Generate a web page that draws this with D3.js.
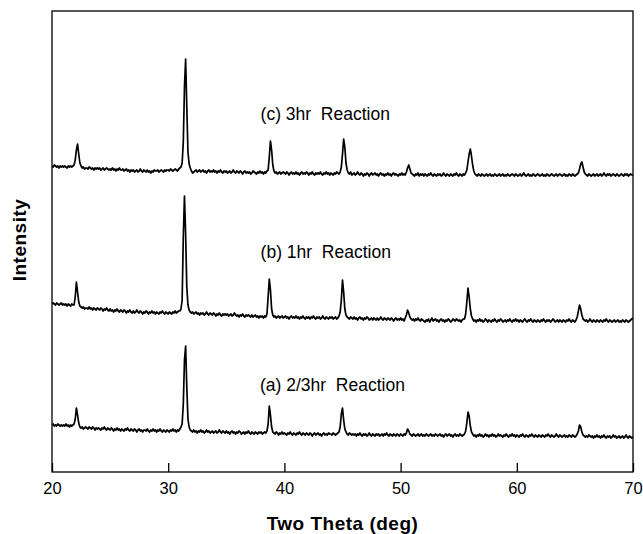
<!DOCTYPE html>
<html>
<head>
<meta charset="utf-8">
<script src="https://cdn.jsdelivr.net/npm/d3@7/dist/d3.min.js"></script>
<style>
  html, body { margin: 0; padding: 0; background: #fff; }
  text { font-family: "Liberation Sans", Arial, Helvetica, sans-serif; fill: #000; }
</style>
</head>
<body>
<svg id="chart" width="643" height="534"></svg>
<script>
// XRD scans, 2θ from 20° to 70° in 0.1° steps (501 points each), stacked intensities (a.u.)
const thetaStart = 20;
const thetaStep = 0.1;
const xTicks = [20, 30, 40, 50, 60, 70];
const seriesLabels = ["(a) 2/3hr  Reaction", "(b) 1hr  Reaction", "(c) 3hr  Reaction"];

// (a) 2/3 hr
const intensityA = [
  47, 48, 46, 47, 46, 48, 47, 46, 47, 46,
  47, 46, 48, 46, 47, 45, 47, 46, 47, 48,
  53, 64, 57, 49, 45, 44, 45, 43, 44, 45,
  44, 43, 45, 44, 43, 45, 44, 42, 44, 43,
  44, 43, 42, 44, 43, 45, 43, 42, 44, 43,
  42, 44, 43, 41, 43, 42, 44, 42, 43, 41,
  43, 42, 41, 43, 42, 44, 42, 41, 43, 42,
  41, 43, 42, 40, 42, 43, 41, 42, 40, 42,
  42, 41, 43, 41, 40, 42, 41, 43, 41, 42,
  40, 42, 41, 43, 41, 40, 42, 41, 40, 42,
  41, 40, 42, 41, 43, 41, 42, 40, 42, 41,
  43, 45, 48, 68, 112, 126, 85, 53, 45, 42,
  41, 40, 42, 40, 41, 39, 41, 40, 42, 40,
  41, 39, 40, 42, 40, 41, 39, 40, 41, 39,
  40, 41, 39, 40, 42, 40, 39, 41, 40, 39,
  41, 39, 40, 38, 40, 41, 39, 40, 38, 40,
  39, 41, 40, 38, 39, 40, 38, 40, 39, 41,
  39, 38, 40, 39, 38, 40, 39, 38, 40, 39,
  40, 38, 39, 40, 39, 41, 48, 66, 57, 45,
  40, 39, 38, 40, 39, 37, 39, 38, 40, 38,
  39, 38, 37, 39, 38, 40, 38, 37, 39, 38,
  37, 39, 38, 40, 38, 37, 39, 38, 37, 39,
  38, 37, 39, 38, 36, 38, 39, 37, 38, 39,
  37, 38, 36, 38, 39, 37, 38, 37, 39, 38,
  38, 37, 39, 38, 37, 38, 39, 40, 45, 58,
  64, 52, 43, 40, 38, 37, 39, 38, 37, 38,
  37, 38, 36, 38, 37, 39, 37, 36, 38, 37,
  38, 36, 37, 39, 37, 36, 38, 37, 36, 38,
  37, 38, 36, 37, 38, 36, 38, 37, 39, 37,
  36, 38, 37, 36, 38, 37, 36, 38, 37, 36,
  38, 37, 36, 38, 37, 39, 43, 41, 38, 37,
  36, 38, 37, 36, 37, 38, 36, 37, 38, 36,
  37, 36, 38, 37, 36, 37, 38, 36, 37, 36,
  38, 37, 36, 37, 38, 36, 37, 35, 37, 38,
  36, 37, 38, 36, 37, 35, 37, 38, 36, 37,
  36, 38, 37, 36, 37, 38, 41, 49, 60, 56,
  46, 40, 38, 36, 37, 35, 37, 36, 38, 36,
  37, 35, 36, 38, 36, 37, 35, 37, 36, 38,
  36, 37, 35, 36, 38, 36, 37, 36, 35, 37,
  36, 38, 36, 35, 37, 36, 38, 36, 37, 35,
  37, 36, 35, 37, 36, 38, 36, 35, 37, 36,
  35, 37, 36, 38, 36, 35, 37, 36, 35, 37,
  36, 35, 37, 36, 35, 37, 36, 38, 36, 35,
  37, 36, 35, 36, 38, 36, 35, 37, 36, 35,
  36, 37, 35, 36, 35, 37, 36, 35, 37, 36,
  35, 36, 38, 41, 47, 45, 40, 37, 36, 35,
  36, 35, 37, 36, 35, 36, 34, 36, 35, 37,
  35, 36, 34, 36, 35, 37, 35, 34, 36, 35,
  36, 34, 35, 37, 35, 36, 34, 35, 36, 34,
  35, 36, 34, 35, 37, 35, 34, 36, 35, 34,
  35
];

// (b) 1 hr
const intensityB = [
  168, 169, 168, 167, 169, 168, 167, 168, 169, 167,
  168, 167, 168, 166, 168, 167, 166, 168, 167, 167,
  175, 190, 180, 170, 166, 165, 164, 165, 163, 164,
  164, 163, 165, 163, 164, 162, 164, 163, 162, 164,
  163, 162, 164, 163, 161, 163, 162, 164, 162, 161,
  163, 161, 162, 160, 162, 161, 163, 161, 160, 162,
  161, 160, 162, 161, 159, 161, 160, 162, 160, 159,
  161, 159, 160, 162, 160, 159, 161, 160, 158, 160,
  159, 161, 160, 158, 160, 159, 161, 159, 160, 158,
  160, 159, 158, 160, 159, 161, 159, 158, 160, 159,
  158, 160, 159, 158, 160, 159, 161, 159, 160, 161,
  161, 163, 172, 235, 276, 238, 185, 167, 162, 160,
  159, 160, 158, 159, 160, 158, 159, 157, 159, 158,
  159, 157, 158, 160, 158, 157, 159, 158, 157, 159,
  158, 156, 158, 157, 159, 157, 156, 158, 157, 158,
  157, 158, 156, 157, 158, 156, 157, 159, 157, 156,
  157, 155, 157, 156, 158, 156, 155, 157, 156, 157,
  156, 155, 157, 155, 156, 157, 155, 156, 154, 156,
  155, 156, 154, 156, 155, 158, 175, 193, 182, 163,
  157, 155, 156, 154, 155, 156, 154, 155, 156, 154,
  155, 156, 154, 155, 153, 155, 156, 154, 155, 154,
  156, 154, 155, 153, 155, 154, 156, 154, 153, 155,
  154, 155, 153, 155, 154, 156, 154, 153, 155, 154,
  155, 153, 154, 156, 154, 153, 155, 154, 153, 155,
  154, 155, 153, 154, 155, 153, 154, 156, 160, 172,
  192, 180, 163, 157, 155, 154, 153, 155, 154, 153,
  155, 153, 154, 152, 154, 155, 153, 154, 152, 154,
  153, 155, 154, 152, 153, 154, 152, 154, 153, 152,
  154, 152, 153, 155, 153, 152, 154, 153, 152, 154,
  153, 152, 154, 153, 151, 153, 154, 152, 153, 152,
  154, 152, 153, 151, 154, 157, 162, 159, 155, 153,
  152, 153, 151, 153, 152, 154, 152, 151, 153, 152,
  151, 150, 152, 151, 153, 150, 152, 154, 151, 152,
  153, 151, 152, 150, 152, 153, 151, 152, 150, 152,
  151, 153, 152, 150, 151, 153, 152, 151, 153, 152,
  151, 152, 150, 152, 153, 153, 158, 170, 184, 175,
  163, 156, 153, 151, 152, 150, 152, 151, 153, 151,
  152, 150, 151, 153, 152, 150, 152, 151, 150, 152,
  151, 153, 151, 150, 152, 151, 153, 152, 150, 151,
  152, 150, 152, 151, 153, 151, 150, 152, 151, 153,
  151, 152, 150, 152, 151, 150, 152, 153, 151, 150,
  152, 151, 153, 151, 150, 152, 151, 150, 152, 151,
  150, 152, 151, 153, 151, 150, 152, 151, 152, 150,
  151, 153, 152, 150, 151, 152, 150, 152, 151, 150,
  152, 151, 150, 152, 151, 153, 151, 150, 152, 151,
  150, 152, 155, 161, 167, 163, 157, 153, 152, 151,
  152, 150, 151, 153, 151, 150, 152, 151, 150, 152,
  151, 150, 152, 151, 150, 152, 151, 153, 151, 150,
  152, 151, 150, 151, 152, 150, 151, 152, 150, 151,
  150, 152, 151, 150, 152, 151, 150, 151, 152, 153,
  154
];

// (c) 3 hr
const intensityC = [
  306, 305, 307, 306, 305, 306, 304, 306, 305, 306,
  305, 306, 305, 304, 306, 305, 306, 305, 306, 307,
  312, 322, 328, 318, 309, 306, 304, 305, 303, 304,
  304, 303, 305, 304, 303, 304, 302, 304, 303, 304,
  303, 304, 302, 303, 304, 302, 303, 304, 303, 302,
  303, 302, 304, 302, 303, 301, 303, 302, 304, 302,
  302, 303, 301, 302, 303, 301, 302, 300, 302, 301,
  302, 300, 301, 302, 300, 301, 303, 301, 300, 302,
  301, 300, 302, 300, 301, 299, 301, 300, 302, 301,
  301, 302, 300, 301, 302, 301, 300, 302, 301, 302,
  302, 301, 303, 302, 301, 302, 303, 302, 301, 303,
  304, 305, 309, 330, 385, 413, 365, 320, 308, 304,
  301, 299, 300, 301, 302, 300, 301, 302, 300, 301,
  302, 300, 301, 299, 301, 302, 300, 301, 300, 302,
  300, 301, 299, 301, 300, 302, 300, 299, 301, 300,
  301, 299, 300, 301, 299, 300, 302, 300, 299, 301,
  300, 299, 301, 300, 298, 300, 301, 299, 300, 299,
  300, 298, 299, 301, 300, 299, 298, 300, 299, 301,
  299, 300, 298, 300, 299, 301, 302, 315, 331, 322,
  307, 301, 299, 300, 298, 299, 300, 298, 299, 300,
  299, 298, 300, 299, 297, 299, 300, 298, 299, 298,
  300, 298, 299, 297, 299, 300, 298, 299, 298, 300,
  299, 297, 299, 298, 300, 298, 297, 299, 298, 299,
  298, 300, 298, 297, 299, 298, 300, 298, 299, 297,
  299, 298, 297, 299, 298, 300, 299, 298, 300, 305,
  318, 333, 325, 309, 302, 299, 298, 300, 297, 298,
  299, 297, 298, 300, 298, 297, 299, 298, 296, 298,
  297, 299, 298, 296, 298, 299, 297, 298, 299, 297,
  298, 296, 298, 299, 297, 298, 296, 298, 297, 299,
  297, 298, 296, 298, 299, 297, 298, 297, 296, 298,
  297, 299, 297, 298, 297, 300, 304, 307, 303, 299,
  298, 297, 296, 298, 297, 299, 296, 298, 297, 298,
  296, 298, 297, 296, 298, 297, 299, 297, 296, 298,
  297, 296, 298, 297, 298, 296, 297, 299, 297, 296,
  298, 297, 296, 298, 297, 296, 298, 297, 299, 297,
  296, 298, 297, 296, 298, 297, 299, 302, 310, 318,
  323, 316, 307, 301, 298, 297, 296, 298, 297, 296,
  298, 297, 296, 297, 298, 296, 297, 298, 296, 297,
  296, 298, 297, 296, 297, 298, 296, 297, 298, 296,
  297, 296, 298, 297, 296, 297, 298, 297, 296, 298,
  297, 296, 297, 298, 296, 297, 299, 297, 296, 297,
  298, 296, 297, 296, 298, 297, 296, 297, 298, 297,
  296, 297, 298, 296, 297, 296, 298, 297, 296, 297,
  298, 297, 296, 297, 298, 296, 297, 298, 297, 296,
  297, 298, 296, 297, 296, 298, 297, 296, 298, 297,
  296, 297, 298, 299, 303, 308, 310, 305, 300, 298,
  297, 296, 298, 297, 296, 297, 298, 296, 297, 298,
  296, 297, 298, 296, 297, 299, 297, 296, 298, 297,
  298, 296, 297, 298, 297, 296, 298, 297, 296, 297,
  298, 297, 296, 298, 297, 298, 296, 297, 298, 297,
  297
];

const svg = d3.select("#chart");
const plot = { left: 52, right: 633, top: 11, bottom: 472 };

const x = d3.scaleLinear().domain([20, 70]).range([plot.left, plot.right]);
const y = d3.scaleLinear().domain([0, 461]).range([plot.bottom, plot.top]);

const series = [
  { label: seriesLabels[0], values: intensityA, labelAt: [37.9, 81] },
  { label: seriesLabels[1], values: intensityB, labelAt: [37.95, 214] },
  { label: seriesLabels[2], values: intensityC, labelAt: [37.95, 352] }
];

const line = d3.line()
  .x((d, i) => x(thetaStart + i * thetaStep))
  .y(d => y(d));

svg.append("clipPath").attr("id", "plot-clip")
  .append("rect")
  .attr("x", plot.left).attr("y", plot.top)
  .attr("width", plot.right - plot.left).attr("height", plot.bottom - plot.top);

// diffraction traces
svg.append("g").attr("clip-path", "url(#plot-clip)")
  .selectAll("path")
  .data(series)
  .join("path")
  .attr("d", d => line(d.values))
  .attr("fill", "none")
  .attr("stroke", "#000")
  .attr("stroke-width", 1.7)
  .attr("stroke-linejoin", "round");

// trace captions
svg.append("g")
  .selectAll("text")
  .data(series)
  .join("text")
  .attr("x", d => x(d.labelAt[0]))
  .attr("y", d => y(d.labelAt[1]))
  .attr("font-size", 17.5)
  .style("white-space", "pre")
  .text(d => d.label);

// bottom axis with inward ticks
const xAxis = svg.append("g")
  .attr("transform", `translate(0,${plot.bottom})`)
  .call(d3.axisBottom(x)
    .tickValues(xTicks)
    .tickSizeInner(-9)
    .tickSizeOuter(0)
    .tickPadding(10)
    .tickFormat(d3.format("d")));
xAxis.select(".domain").remove();
xAxis.selectAll(".tick line").attr("stroke", "#000").attr("stroke-width", 1.3);
xAxis.selectAll(".tick text")
  .attr("font-size", 16.5)
  .attr("font-family", "'Liberation Sans', Arial, sans-serif")
  .attr("fill", "#000");

// plot frame
svg.append("rect")
  .attr("x", plot.left).attr("y", plot.top)
  .attr("width", plot.right - plot.left).attr("height", plot.bottom - plot.top)
  .attr("fill", "none")
  .attr("stroke", "#000")
  .attr("stroke-width", 1.3);

// axis titles
svg.append("text")
  .attr("x", (plot.left + plot.right) / 2)
  .attr("y", 530)
  .attr("text-anchor", "middle")
  .attr("font-size", 19)
  .attr("font-weight", "bold")
  .attr("letter-spacing", 0.5)
  .text("Two Theta (deg)");

svg.append("text")
  .attr("transform", "translate(26,240) rotate(-90)")
  .attr("text-anchor", "middle")
  .attr("font-size", 19)
  .attr("font-weight", "bold")
  .attr("letter-spacing", 0.5)
  .text("Intensity");
</script>
</body>
</html>
